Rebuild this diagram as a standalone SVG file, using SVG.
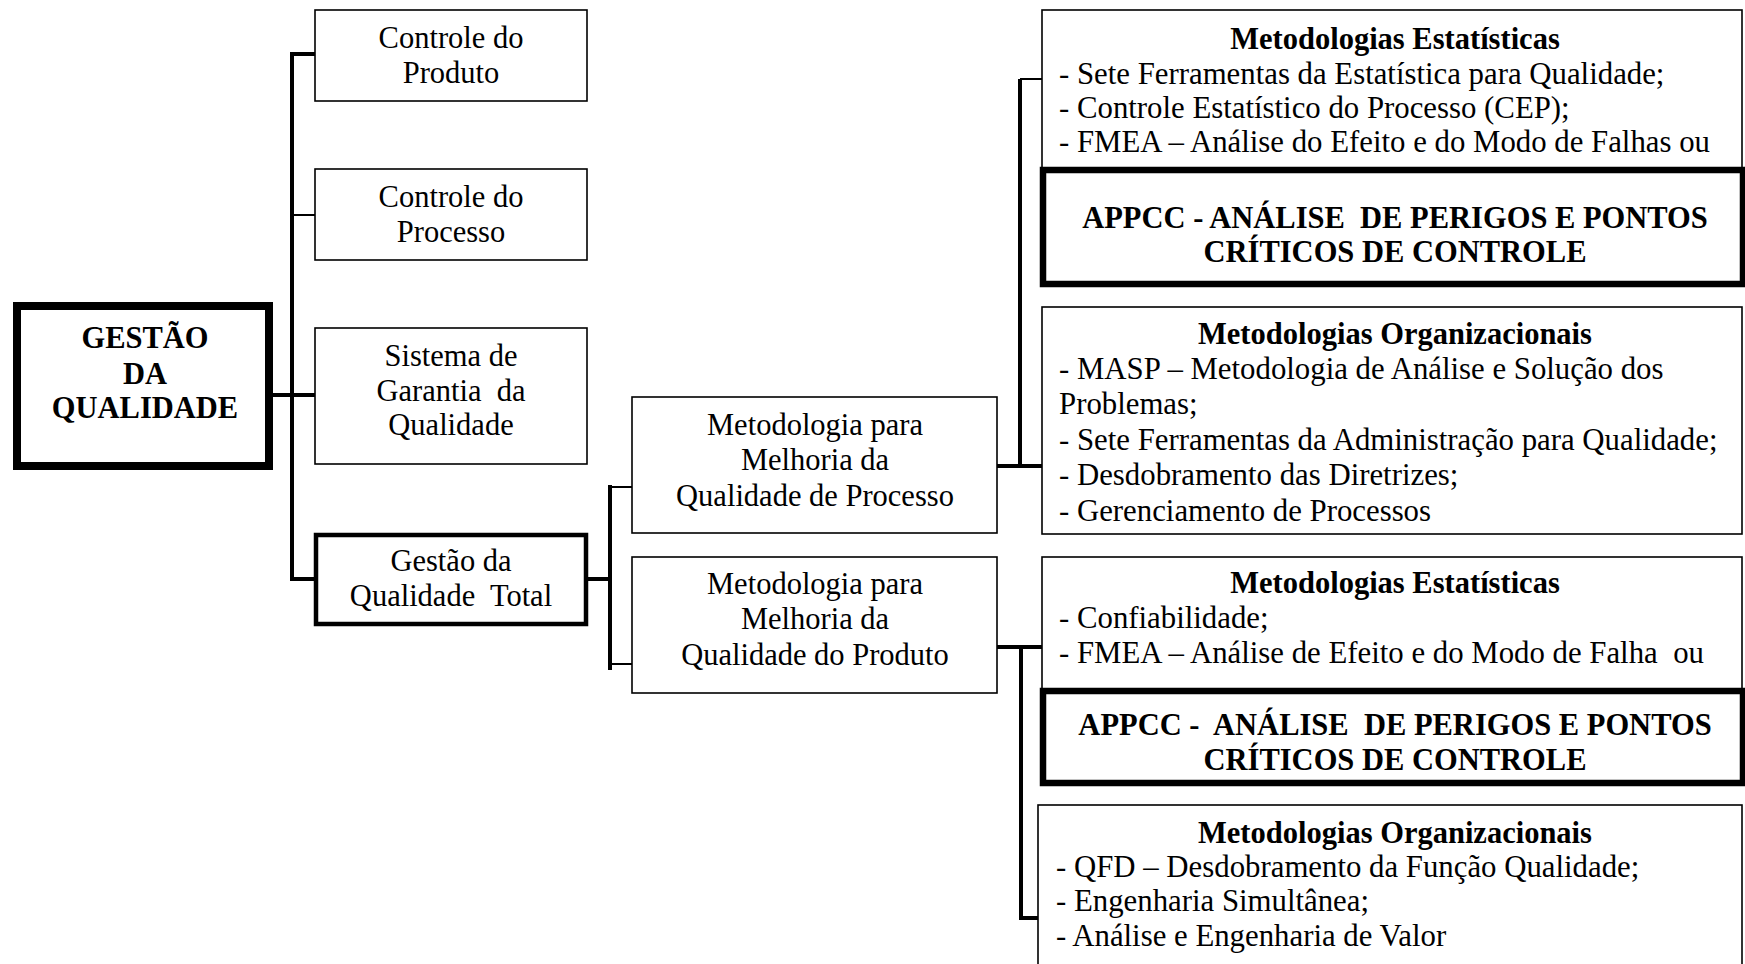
<svg xmlns="http://www.w3.org/2000/svg" width="1745" height="964" viewBox="0 0 1745 964">
  <style>
    .box { fill: #fff; stroke: #000; stroke-width: 1.6; }
    .bold-box { fill: #fff; stroke: #000; stroke-width: 6.5; }
    .mid-box { fill: #fff; stroke: #000; stroke-width: 4.5; }
    .t { font-family: "Liberation Serif", "Times New Roman", serif; font-size: 30.5px; fill: #000; }
    .r { font-size: 30.8px; }
    .c { text-anchor: middle; }
    .b { font-weight: bold; }
    .pre { white-space: pre; }
    .wire { fill: none; stroke: #000; stroke-width: 4; }
    .wire-thin { fill: none; stroke: #000; stroke-width: 2; }
  </style>
  <rect width="1745" height="964" fill="#fff"/>

  <!-- connectors -->
  <g id="connectors">
    <!-- root to first level -->
    <line class="wire" x1="292" y1="54" x2="292" y2="581"/>
    <line class="wire" x1="290" y1="54" x2="315" y2="54"/>
    <line class="wire-thin" x1="292" y1="215" x2="315" y2="215"/>
    <line class="wire" x1="269" y1="395" x2="315" y2="395"/>
    <line class="wire" x1="290" y1="579" x2="315" y2="579"/>
    <!-- total quality to methodologies -->
    <line class="wire" x1="528" y1="579" x2="610" y2="579"/>
    <line class="wire" x1="610" y1="485" x2="610" y2="670"/>
    <line class="wire-thin" x1="610" y1="487" x2="632" y2="487"/>
    <line class="wire-thin" x1="610" y1="664" x2="632" y2="664"/>
    <!-- process branch -->
    <line class="wire" x1="997" y1="466" x2="1042" y2="466"/>
    <line class="wire" x1="1020" y1="79" x2="1020" y2="468"/>
    <line class="wire-thin" x1="1020" y1="79" x2="1042" y2="79"/>
    <!-- product branch -->
    <line class="wire" x1="997" y1="647" x2="1042" y2="647"/>
    <line class="wire" x1="1021" y1="645" x2="1021" y2="920"/>
    <line class="wire" x1="1019" y1="918" x2="1038" y2="918"/>
  </g>

  <g id="gestao-qualidade">
    <rect class="bold-box" x="17" y="306" width="252" height="160" style="stroke-width:8"/>
    <text class="t b c" x="145" y="348">GESTÃO</text>
    <text class="t b c" x="145" y="384">DA</text>
    <text class="t b c" x="145" y="418">QUALIDADE</text>
  </g>

  <g id="controle-produto">
    <rect class="box" x="315" y="10" width="272" height="91"/>
    <text class="t c" x="451" y="48">Controle do</text>
    <text class="t c" x="451" y="83">Produto</text>
  </g>

  <g id="controle-processo">
    <rect class="box" x="315" y="169" width="272" height="91"/>
    <text class="t c" x="451" y="207">Controle do</text>
    <text class="t c" x="451" y="242">Processo</text>
  </g>

  <g id="sistema-garantia">
    <rect class="box" x="315" y="328" width="272" height="136"/>
    <text class="t c" x="451" y="366">Sistema de</text>
    <text class="t c pre" x="451" y="401">Garantia  da</text>
    <text class="t c" x="451" y="435">Qualidade</text>
  </g>

  <g id="gestao-qualidade-total">
    <rect class="mid-box" x="316" y="535" width="270" height="89"/>
    <text class="t c" x="451" y="571">Gestão da</text>
    <text class="t c pre" x="451" y="606">Qualidade  Total</text>
  </g>

  <g id="melhoria-processo">
    <rect class="box" x="632" y="397" width="365" height="136"/>
    <text class="t c" x="815" y="435">Metodologia para</text>
    <text class="t c" x="815" y="470">Melhoria da</text>
    <text class="t c" x="815" y="506">Qualidade de Processo</text>
  </g>

  <g id="melhoria-produto">
    <rect class="box" x="632" y="557" width="365" height="136"/>
    <text class="t c" x="815" y="594">Metodologia para</text>
    <text class="t c" x="815" y="629">Melhoria da</text>
    <text class="t c" x="815" y="665">Qualidade do Produto</text>
  </g>

  <g id="estatisticas-processo">
    <rect class="box" x="1042" y="10" width="700" height="170"/>
    <text class="t b c" x="1395" y="49">Metodologias Estatísticas</text>
    <text class="t r" x="1059" y="84">- Sete Ferramentas da Estatística para Qualidade;</text>
    <text class="t r" x="1059" y="118">- Controle Estatístico do Processo (CEP);</text>
    <text class="t r" x="1059" y="152">- FMEA – Análise do Efeito e do Modo de Falhas ou</text>
  </g>

  <g id="appcc-processo">
    <rect class="bold-box" x="1043" y="170" width="700" height="114"/>
    <text class="t b c pre" x="1395" y="228">APPCC - ANÁLISE  DE PERIGOS E PONTOS</text>
    <text class="t b c" x="1395" y="262">CRÍTICOS DE CONTROLE</text>
  </g>

  <g id="organizacionais-processo">
    <rect class="box" x="1042" y="307" width="700" height="227"/>
    <text class="t b c" x="1395" y="344">Metodologias Organizacionais</text>
    <text class="t r" x="1059" y="379">- MASP – Metodologia de Análise e Solução dos</text>
    <text class="t r" x="1059" y="414">Problemas;</text>
    <text class="t r" x="1059" y="450">- Sete Ferramentas da Administração para Qualidade;</text>
    <text class="t r" x="1059" y="485">- Desdobramento das Diretrizes;</text>
    <text class="t r" x="1059" y="521">- Gerenciamento de Processos</text>
  </g>

  <g id="estatisticas-produto">
    <rect class="box" x="1042" y="557" width="700" height="140"/>
    <text class="t b c" x="1395" y="593">Metodologias Estatísticas</text>
    <text class="t r" x="1059" y="628">- Confiabilidade;</text>
    <text class="t r pre" x="1059" y="663">- FMEA – Análise de Efeito e do Modo de Falha  ou</text>
  </g>

  <g id="appcc-produto">
    <rect class="bold-box" x="1043" y="691" width="700" height="92"/>
    <text class="t b c pre" x="1395" y="735">APPCC -  ANÁLISE  DE PERIGOS E PONTOS</text>
    <text class="t b c" x="1395" y="770">CRÍTICOS DE CONTROLE</text>
  </g>

  <g id="organizacionais-produto">
    <rect class="box" x="1038" y="805" width="704" height="170"/>
    <text class="t b c" x="1395" y="843">Metodologias Organizacionais</text>
    <text class="t r" x="1056" y="877">- QFD – Desdobramento da Função Qualidade;</text>
    <text class="t r" x="1056" y="911">- Engenharia Simultânea;</text>
    <text class="t r" x="1056" y="946">- Análise e Engenharia de Valor</text>
  </g>
</svg>
